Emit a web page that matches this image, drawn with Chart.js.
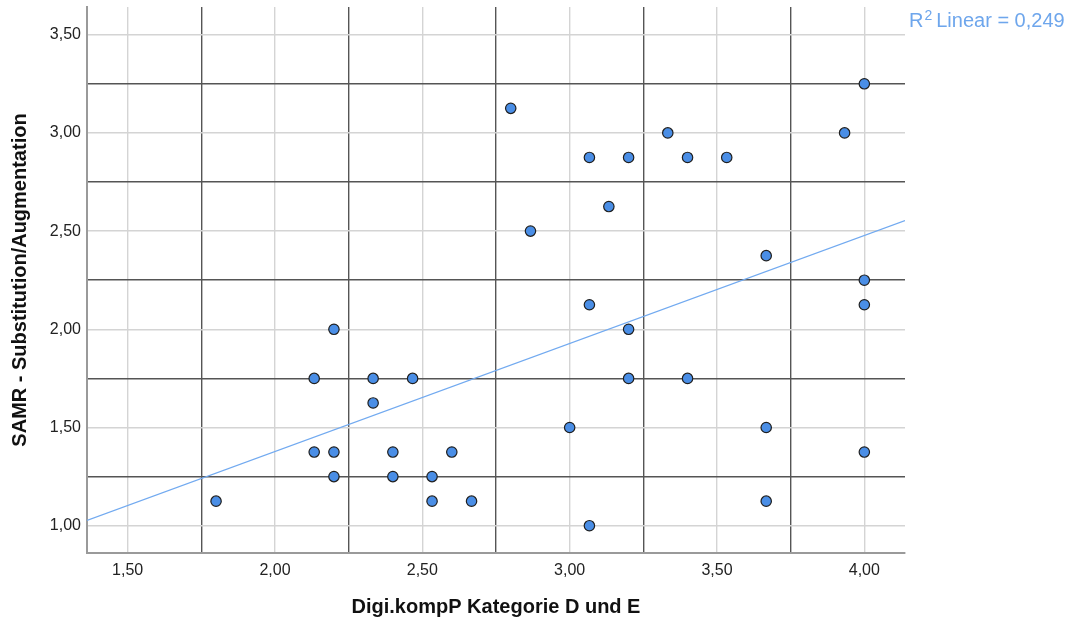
<!DOCTYPE html>
<html lang="de">
<head>
    <meta charset="UTF-8">
    <title>SAMR Streudiagramm</title>
    <script src="https://cdn.jsdelivr.net/npm/chart.js"></script>
    <style>
        body {
            margin: 0;
            padding: 0;
            background-color: #fff;
        }
        #chart {
            display: block;
        }
    </style>
</head>
<body>
    <canvas id="chart" width="1076" height="619"></canvas>

    <script>
        // Digi.kompP Kategorie D und E (x) / SAMR Substitution/Augmentation (y)
        var digiKomp = [1.8, 2.133, 2.133, 2.2, 2.2, 2.2, 2.333, 2.333, 2.4, 2.4,
            2.467, 2.533, 2.533, 2.6, 2.667, 2.8, 2.867, 3.0, 3.067, 3.067,
            3.067, 3.133, 3.2, 3.2, 3.2, 3.333, 3.4, 3.4, 3.533, 3.667,
            3.667, 3.667, 3.933, 4.0, 4.0, 4.0, 4.0];
        var samr = [1.125, 1.75, 1.375, 2.0, 1.375, 1.25, 1.75, 1.625, 1.375, 1.25,
            1.75, 1.25, 1.125, 1.375, 1.125, 3.125, 2.5, 1.5, 2.875, 2.125,
            1.0, 2.625, 2.875, 2.0, 1.75, 3.0, 2.875, 1.75, 2.875, 2.375,
            1.5, 1.125, 3.0, 3.25, 2.25, 2.125, 1.375];

        var fitX = [1.362, 4.138];
        var fitY = [1.027, 2.554];
        var rSquaredLabel = '0,249';

        var font = 'Arial, "Liberation Sans", Helvetica, sans-serif';

        function fmt(v) {
            return v.toFixed(2).replace('.', ',');
        }
        function isHalf(v) {
            return Math.abs(v * 2 - Math.round(v * 2)) < 1e-6;
        }

        var points = digiKomp.map(function (x, i) { return { x: x, y: samr[i] }; });
        var fitLine = fitX.map(function (x, i) { return { x: x, y: fitY[i] }; });

        var rLabel = {
            id: 'rLabel',
            afterDraw: function (chart) {
                var ctx = chart.ctx;
                ctx.save();
                ctx.fillStyle = '#6ea6ec';
                ctx.textBaseline = 'alphabetic';
                var x = 909, y = 27;
                ctx.font = '20px ' + font;
                ctx.fillText('R', x, y);
                x += ctx.measureText('R').width + 1;
                ctx.font = '14px ' + font;
                ctx.fillText('2', x, y - 7);
                x += ctx.measureText('2').width + 4;
                ctx.font = '20px ' + font;
                ctx.fillText('Linear = ' + rSquaredLabel, x, y);
                ctx.restore();
            }
        };

        var gridColor = function (c) {
            return isHalf(c.tick.value) ? '#d4d4d4' : '#555555';
        };

        new Chart(document.getElementById('chart').getContext('2d'), {
            type: 'scatter',
            data: {
                datasets: [{
                    label: 'Daten',
                    data: points,
                    backgroundColor: '#4a8ee6',
                    borderColor: '#1f1f1f',
                    borderWidth: 1.2,
                    pointRadius: 5.2,
                    order: 1
                }, {
                    type: 'line',
                    label: 'Linear',
                    data: fitLine,
                    borderColor: '#72aaf0',
                    borderWidth: 1.2,
                    pointRadius: 0,
                    fill: false,
                    order: 2
                }]
            },
            options: {
                responsive: false,
                animation: false,
                layout: { padding: { top: 7, right: 171, left: 0, bottom: 0 } },
                plugins: {
                    legend: { display: false },
                    tooltip: { enabled: false }
                },
                scales: {
                    x: {
                        type: 'linear',
                        min: 1.362,
                        max: 4.138,
                        afterFit: function (s) {
                            s.height = 66;
                            s.paddingLeft = 0;
                            s.paddingRight = 0;
                        },
                        border: { display: true, color: '#9a9a9a', width: 2 },
                        grid: { color: gridColor, lineWidth: 1.4, drawTicks: false },
                        ticks: {
                            stepSize: 0.25,
                            includeBounds: false,
                            autoSkip: false,
                            maxRotation: 0,
                            padding: 8,
                            color: '#222',
                            font: { family: font, size: 16 },
                            callback: function (v) { return isHalf(v) ? fmt(v) : ''; }
                        },
                        title: {
                            display: true,
                            text: 'Digi.kompP Kategorie D und E',
                            color: '#111',
                            font: { family: font, size: 20, weight: 'bold' },
                            padding: { top: 0, bottom: 0 }
                        }
                    },
                    y: {
                        type: 'linear',
                        min: 0.861,
                        max: 3.641,
                        afterFit: function (s) {
                            s.width = 87;
                            s.paddingTop = 0;
                            s.paddingBottom = 0;
                        },
                        border: { display: true, color: '#9a9a9a', width: 2 },
                        grid: { color: gridColor, lineWidth: 1.4, drawTicks: false },
                        ticks: {
                            stepSize: 0.25,
                            includeBounds: false,
                            autoSkip: false,
                            padding: 6,
                            color: '#222',
                            font: { family: font, size: 16 },
                            callback: function (v) { return isHalf(v) ? fmt(v) : ''; }
                        },
                        title: {
                            display: true,
                            text: 'SAMR - Substitution/Augmentation',
                            color: '#111',
                            font: { family: font, size: 20, weight: 'bold' },
                            padding: { top: 8, bottom: 4 }
                        }
                    }
                }
            },
            plugins: [rLabel]
        });
    </script>
</body>
</html>
